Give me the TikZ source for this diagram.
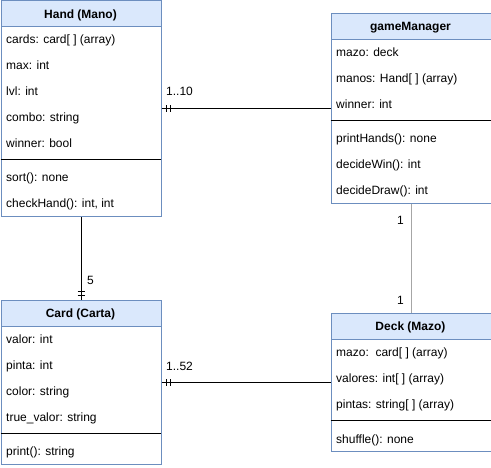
\documentclass[tikz,border=0pt]{standalone}
\usepackage{fontspec}
\setmainfont{Liberation Sans}
\definecolor{hdr}{HTML}{DAE8FC}
\definecolor{bdr}{HTML}{6C8EBF}
\definecolor{gline}{HTML}{A6A6A6}
\begin{document}
\begin{tikzpicture}[x=1pt,y=-1pt,
  txt/.style={font=\fontsize{12}{14}\selectfont},
  classbox/.style={draw=bdr, line width=1pt, fill=white, anchor=north west, minimum width=160pt, inner sep=0pt},
  hdrbox/.style={draw=bdr, line width=1pt, fill=hdr, anchor=north west, minimum width=160pt, minimum height=26pt, inner sep=0pt},
  title/.style={txt, font=\fontsize{12}{14}\selectfont\bfseries, anchor=base, inner sep=0pt},
  row/.style={txt, anchor=base west, inner sep=0pt},
  sepline/.style={black, line width=1pt},
  conn/.style={black, line width=1pt},
  gconn/.style={gline, line width=1pt},
  mult/.style={txt, inner sep=0pt}
]
\useasboundingbox (0,0) rectangle (491,468);

% ---------- Hand ----------
\node[classbox, minimum height=216pt] (hand) at (0.5,0.5) {};
\node[hdrbox] (handh) at (0.5,0.5) {};
\node[title] (handt) at (80.5,18.5) {Hand (Mano)};
\node[row] (h1) at (6,44) {cards: card[ ] (array)};
\node[row] (h2) at (6,70) {max: int};
\node[row] (h3) at (6,96) {lvl: int};
\node[row] (h4) at (6,122) {combo: string};
\node[row] (h5) at (6,148) {winner: bool};
\draw[sepline] (0.5,160) -- (160.5,160);
\node[row] (h6) at (6,182) {sort(): none};
\node[row] (h7) at (6,208) {checkHand(): int, int};

% ---------- gameManager ----------
\node[classbox, minimum height=190pt] (gm) at (330.5,13.5) {};
\node[hdrbox] (gmh) at (330.5,13.5) {};
\node[title] (gmt) at (410.5,31) {gameManager};
\node[row] (g1) at (336,57) {mazo: deck};
\node[row] (g2) at (336,83) {manos: Hand[ ] (array)};
\node[row] (g3) at (336,109) {winner: int};
\draw[sepline] (330.5,121) -- (490.5,121);
\node[row] (g4) at (336,143) {printHands(): none};
\node[row] (g5) at (336,169) {decideWin(): int};
\node[row] (g6) at (336,195) {decideDraw(): int};

% ---------- Card ----------
\node[classbox, minimum height=164pt] (card) at (0.5,300.5) {};
\node[hdrbox] (cardh) at (0.5,300.5) {};
\node[title] (cardt) at (80.5,318) {Card (Carta)};
\node[row] (c1) at (6,344) {valor: int};
\node[row] (c2) at (6,370) {pinta: int};
\node[row] (c3) at (6,396) {color: string};
\node[row] (c4) at (6,422) {true\_valor: string};
\draw[sepline] (0.5,434) -- (160.5,434);
\node[row] (c5) at (6,456) {print(): string};

% ---------- Deck ----------
\node[classbox, minimum height=138pt] (deck) at (330.5,313.5) {};
\node[hdrbox] (deckh) at (330.5,313.5) {};
\node[title] (deckt) at (410.5,331) {Deck (Mazo)};
\node[row] (d1) at (336,357) {mazo:\ \ card[ ] (array)};
\node[row] (d2) at (336,383) {valores: int[ ] (array)};
\node[row] (d3) at (336,409) {pintas: string[ ] (array)};
\draw[sepline] (330.5,421) -- (490.5,421);
\node[row] (d4) at (336,443) {shuffle(): none};

% ---------- connectors ----------
% Hand -- gameManager
\draw[conn] (hand.east) -- (gm.west);
\draw[conn] ([xshift=5pt,yshift=3.5pt]hand.east) -- ([xshift=5pt,yshift=-3.5pt]hand.east);
\draw[conn] ([xshift=8.5pt,yshift=3.5pt]hand.east) -- ([xshift=8.5pt,yshift=-3.5pt]hand.east);
\node[mult, anchor=west] (m110) at (166,91) {1..10};

% Hand -- Card
\draw[conn] (hand.south) -- (card.north);
\draw[conn] ([xshift=-3.5pt,yshift=4.5pt]card.north) -- ([xshift=3.5pt,yshift=4.5pt]card.north);
\draw[conn] ([xshift=-3.5pt,yshift=8.5pt]card.north) -- ([xshift=3.5pt,yshift=8.5pt]card.north);
\node[mult, anchor=west] (m5) at (87,280) {5};

% gameManager -- Deck
\draw[gconn] (gm.south) -- (deck.north);
\node[mult, anchor=east] (m1a) at (404,220) {1};
\node[mult, anchor=east] (m1b) at (404,300) {1};

% Card -- Deck
\draw[conn] (card.east) -- (deck.west);
\draw[conn] ([xshift=5pt,yshift=3.5pt]card.east) -- ([xshift=5pt,yshift=-3.5pt]card.east);
\draw[conn] ([xshift=8.5pt,yshift=3.5pt]card.east) -- ([xshift=8.5pt,yshift=-3.5pt]card.east);
\node[mult, anchor=west] (m152) at (166,366) {1..52};
\end{tikzpicture}
\end{document}
